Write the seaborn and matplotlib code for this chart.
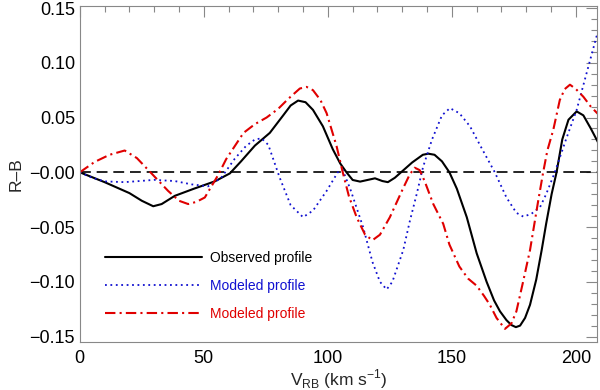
import numpy as np
import pandas as pd
import matplotlib
matplotlib.use("Agg")
import matplotlib.pyplot as plt
import seaborn as sns
from matplotlib.ticker import MultipleLocator, FixedLocator, FixedFormatter

# ---------------- data ----------------
obs_x = [0, 10, 20, 25, 29.6, 33, 38.3, 46, 54.4, 60.5, 65, 70.6, 76.6, 82, 85, 88, 91, 94, 98,
         102, 105, 107.5, 110, 113, 116, 119, 122, 124.2, 127, 130, 134, 138.3, 140.5, 143, 146,
         149, 152, 156, 160, 164, 167, 169.4, 172, 174, 175.8, 177.5, 179.5, 181.5, 184, 186.2,
         188, 190.2, 192.2, 194.5, 197, 200.3, 203, 206, 209]
obs_y = [0, -0.009, -0.019, -0.026, -0.031, -0.029, -0.0215, -0.015, -0.0083, -0.001, 0.01, 0.0244,
         0.036, 0.052, 0.061, 0.0655, 0.064, 0.057, 0.042, 0.021, 0.008, 0, -0.007, -0.0085, -0.007,
         -0.0055, -0.008, -0.009, -0.005, 0.001, 0.009, 0.016, 0.017, 0.016, 0.01, 0, -0.015, -0.041,
         -0.074, -0.100, -0.117, -0.127, -0.135, -0.1395, -0.1414, -0.140, -0.133, -0.121, -0.098,
         -0.071, -0.047, -0.020, 0, 0.030, 0.048, 0.0556, 0.052, 0.040, 0.027]

mod1_x = [0, 5, 10, 18, 24, 30, 38.3, 45, 51.7, 57, 62.5, 67, 70.6, 73.3, 76, 80.6, 85, 90, 94,
          99.5, 104, 106, 109, 114.2, 118, 121, 123.7, 126, 130.4, 133, 135.8, 138.4, 142, 146,
          149.2, 153, 157.3, 162, 167.3, 172, 176, 178.8, 182, 185.5, 188, 191.5, 196, 200.3, 204,
          208.3, 209]
mod1_y = [0, -0.005, -0.0083, -0.009, -0.008, -0.0069, -0.008, -0.011, -0.0128, -0.005, 0.0125,
          0.024, 0.030, 0.031, 0.025, -0.005, -0.030, -0.041, -0.035, -0.017, 0, 0.002, -0.015,
          -0.050, -0.082, -0.100, -0.107, -0.100, -0.071, -0.045, -0.020, 0.005, 0.030, 0.052,
          0.0586, 0.054, 0.042, 0.022, 0, -0.023, -0.037, -0.0405, -0.038, -0.032, -0.020, 0, 0.030,
          0.057, 0.088, 0.124, 0.127]

mod2_x = [0, 6, 12, 18.1, 23, 28.9, 35.6, 40, 43.7, 47, 50.4, 55.8, 59, 62.5, 66, 70.6, 75.3, 80,
          84, 88.7, 91.4, 94, 97, 99.5, 103.5, 106, 108.5, 111.6, 115, 118, 121, 125, 130.4, 133,
          135, 137, 139, 142.5, 146.5, 149, 153, 156.5, 160, 163, 165.3, 168, 171.4, 174, 176,
          178.5, 181.5, 184.8, 186.8, 188.5, 190.9, 193.5, 195.5, 197.6, 200, 203, 206, 209]
mod2_y = [0, 0.0095, 0.016, 0.0199, 0.013, -0.001, -0.017, -0.026, -0.029, -0.027, -0.023, -0.0024,
          0.012, 0.024, 0.036, 0.044, 0.050, 0.058, 0.067, 0.0765, 0.078, 0.075, 0.066, 0.054, 0.024,
          0, -0.022, -0.041, -0.057, -0.062, -0.057, -0.041, -0.0143, -0.002, 0.0042, 0.002, -0.008,
          -0.029, -0.047, -0.066, -0.086, -0.097, -0.1036, -0.113, -0.121, -0.133, -0.143, -0.138,
          -0.127, -0.102, -0.071, -0.026, 0, 0.020, 0.039, 0.066, 0.076, 0.080, 0.076, 0.069, 0.060,
          0.053]

labels = ["Observed profile", "Modeled profile", "Modeled profile"]
colors = ["black", "#1010d0", "#e00000"]
y_ticks = [-0.15, -0.10, -0.05, 0.0, 0.05, 0.10, 0.15]
y_tick_labels = ["\u22120.15", "\u22120.10", "\u22120.05", "\u22120.00", "0.05", "0.10", "0.15"]
x_ticks = [0, 50, 100, 150, 200]

# ---------------- plot ----------------
sns.set_style("white")
plt.rcParams["font.family"] = ["Liberation Sans", "DejaVu Sans"]
plt.rcParams["mathtext.fontset"] = "custom"
plt.rcParams["mathtext.rm"] = "Liberation Sans"

fig = plt.figure(figsize=(6, 3.9), dpi=100)
ax = fig.add_axes([0.133, 0.123, 0.862, 0.862])

ax.axhline(0, color="black", lw=1.2, ls=(0, (6.5, 3.5)))

sns.lineplot(x=obs_x, y=obs_y, ax=ax, color=colors[0], lw=1.5, label=labels[0], sort=False)
sns.lineplot(x=mod1_x, y=mod1_y, ax=ax, color=colors[1], lw=1.3, ls=(0, (1, 2)),
             label=labels[1], sort=False)
sns.lineplot(x=mod2_x, y=mod2_y, ax=ax, color=colors[2], lw=1.5, ls=(0, (5, 2, 1, 2)),
             label=labels[2], sort=False)

ax.set_xlim(0, 208.5)
ax.set_ylim(-0.155, 0.152)

ax.xaxis.set_major_locator(FixedLocator(x_ticks))
ax.xaxis.set_minor_locator(MultipleLocator(10))
ax.yaxis.set_major_locator(FixedLocator(y_ticks))
ax.yaxis.set_major_formatter(FixedFormatter(y_tick_labels))
ax.yaxis.set_minor_locator(MultipleLocator(0.01))

ax.tick_params(which="both", direction="in", top=True, right=True, colors="#888888",
               labelcolor="black", labelsize=13)
ax.tick_params(which="major", length=8, width=0.8)
ax.tick_params(which="minor", length=4, width=0.8)
ax.tick_params(axis="x", which="major", pad=6)
for s in ax.spines.values():
    s.set_color("#888888")
    s.set_linewidth(0.8)

ax.set_xlabel(r"V$_{\rm RB}$ (km s$^{-1}$)", fontsize=12.5, labelpad=0)
ax.set_ylabel("R\u2013B", fontsize=12.5, labelpad=4)

leg = ax.legend(loc="upper left", bbox_to_anchor=(0.048, 0.27), frameon=False,
                handlelength=7.0, handletextpad=0.6, labelspacing=1.0, fontsize=10,
                borderpad=0, borderaxespad=0)
for t, c in zip(leg.get_texts(), colors):
    t.set_color(c)

fig.savefig("out.png", dpi=100)
